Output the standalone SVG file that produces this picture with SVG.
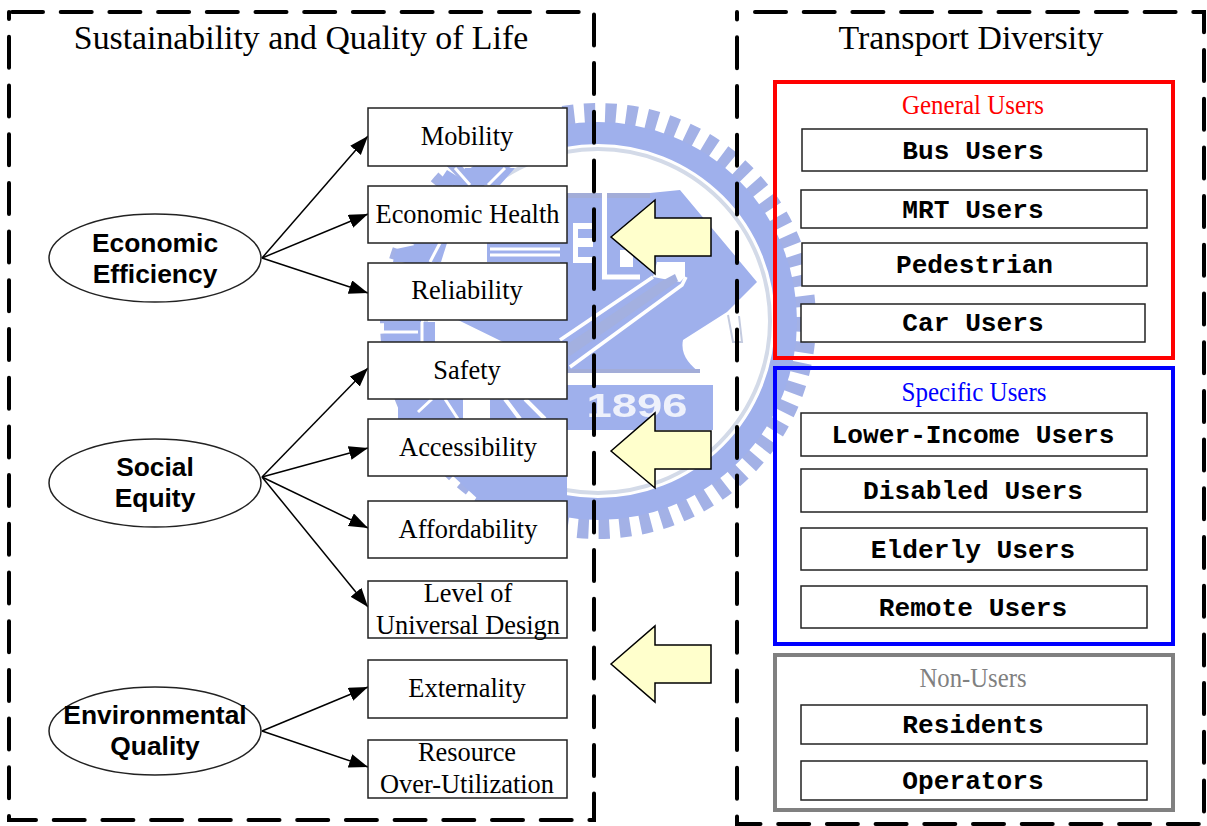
<svg xmlns="http://www.w3.org/2000/svg" width="1207" height="826" viewBox="0 0 1207 826">
<style>
text{text-anchor:middle;fill:#000}
.t{font:33.8px "Liberation Serif",serif}
.n{font:26.4px "Liberation Serif",serif}
.e{font:bold 26.4px "Liberation Sans",sans-serif}
.m{font:bold 26.2px "Liberation Mono",monospace}
.h{font:27px "Liberation Serif",serif}
.b{fill:#fff;stroke:#222;stroke-width:1.5}
.f{fill:none;stroke:#000;stroke-width:4;stroke-linecap:round;stroke-dasharray:31 17.7}
.g{fill:none;stroke-width:4}
.a{fill:#ffc;stroke:#000;stroke-width:1.5}
.w{fill:#9fb0ec}
.s{fill:none;stroke:#fff}
.c line{stroke:#000;stroke-width:1.5;marker-end:url(#ah)}
</style>
<defs>
<marker id="ah" markerUnits="userSpaceOnUse" markerWidth="20" markerHeight="16" refX="19" refY="7" orient="auto"><path d="M0 0L19 7L0 14Z" fill="#000"/></marker>
<filter id="soft" filterUnits="userSpaceOnUse" x="360" y="90" width="480" height="470"><feGaussianBlur stdDeviation="0.7"/></filter>
</defs>
<rect width="1207" height="826" fill="#fff"/>
<g id="watermark" filter="url(#soft)">
<circle cx="598" cy="321" r="208" fill="none" stroke="#a3b1e6" stroke-width="20" stroke-dasharray="11 10"/>
<circle cx="598" cy="321" r="188" fill="none" stroke="#9fb0ec" stroke-width="22"/>
<circle cx="598" cy="321" r="172" fill="none" stroke="#d3dae8" stroke-width="4"/>
<path class="w" d="M437 185L447 170L460 178L465 168H515L500 185Z"/>
<path class="s" stroke-width="3" d="M455 168L470 185M488 185L505 168"/>
<path class="w" d="M393 262L396 249L415 245L447 243L441 262Z"/>
<path class="s" stroke-width="3" d="M430 262L440 243"/>
<path class="w" d="M384 322H435V342H384Z"/>
<path class="s" stroke-width="3" d="M384 332H418M422 322V342"/>
<path class="w" d="M398 399H463V419H398Z"/>
<path class="s" stroke-width="3" d="M445 399L458 419M418 412L432 399"/>
<path class="w" d="M453 476H567V501H480Z"/>
<path class="w" d="M487 243H567V262H487ZM458 320H567V342H503Z"/>
<path class="w" d="M560 193H650L680 190L757 282L727 312L683 340C680 355 690 365 700 373H560Z"/>
<path fill="#a3add8" d="M560 193H650V198H560ZM560 369H700V373H560Z"/>
<path class="s" stroke-width="5" d="M604.500 193V277H640"/>
<path fill="#fff" d="M573 223H593V263H573ZM620 250H633V267H620ZM657 262H685V277L680 282L653 277Z"/>
<path fill="#9fb0ec" d="M578 229H593V238H578ZM578 247H593V257H578Z"/>
<path class="s" stroke-width="3.500" d="M686 277L682 285L570 367M653 277L560 340"/>
<path d="M660 282L675 274L678 281L570 356L560 349Z" fill="#a3b0e0"/>
<path class="s" stroke-width="3" d="M490 249H560M490 255H560"/>
<path d="M728 315L733 342H742L739 316" fill="none" stroke="#c4cbdf" stroke-width="2"/>
<path fill="#9fb0ec" d="M490 385H713V430H560V419H490Z"/>
<path class="s" stroke-width="4" d="M505 399L520 419M525 399L545 419"/>
<text x="637" y="417" textLength="101" lengthAdjust="spacingAndGlyphs" style="font:bold 33px 'Liberation Sans',sans-serif;fill:#eef1fb">1896</text>
</g>
<g id="frame-left"><path class="f" d="M12 12H594V820H9V12"/><text class="t" x="301" y="49">Sustainability and Quality of Life</text></g>
<g id="frame-right"><path class="f" d="M755 12H1204V824H737V12"/><text class="t" x="971" y="49" textLength="265" lengthAdjust="spacingAndGlyphs">Transport Diversity</text></g>
<g id="connectors" class="c">
<line x1="262" y1="258" x2="368" y2="136"/>
<line x1="262" y1="258" x2="368" y2="214"/>
<line x1="262" y1="258" x2="368" y2="293"/>
<line x1="262" y1="477" x2="368" y2="368"/>
<line x1="262" y1="477" x2="368" y2="448"/>
<line x1="262" y1="477" x2="368" y2="528"/>
<line x1="262" y1="477" x2="368" y2="607"/>
<line x1="262" y1="731" x2="368" y2="687"/>
<line x1="262" y1="731" x2="368" y2="767"/>
</g>
<g id="economic-efficiency"><ellipse class="b" cx="155" cy="258" rx="106" ry="44"/><text class="e" x="155" y="252">Economic</text><text class="e" x="155" y="283">Efficiency</text></g>
<g id="social-equity"><ellipse class="b" cx="155" cy="483" rx="106" ry="44"/><text class="e" x="155" y="476">Social</text><text class="e" x="155" y="507">Equity</text></g>
<g id="environmental-quality"><ellipse class="b" cx="155" cy="731" rx="106" ry="44"/><text class="e" x="155" y="724">Environmental</text><text class="e" x="155" y="755">Quality</text></g>
<g id="mobility"><rect class="b" x="368" y="108" width="199" height="58"/><text class="n" x="467" y="145">Mobility</text></g>
<g id="economic-health"><rect class="b" x="368" y="186" width="199" height="57"/><text class="n" x="467.500" y="223">Economic Health</text></g>
<g id="reliability"><rect class="b" x="368" y="263" width="199" height="57"/><text class="n" x="467" y="299">Reliability</text></g>
<g id="safety"><rect class="b" x="368" y="342" width="199" height="57"/><text class="n" x="467" y="379">Safety</text></g>
<g id="accessibility"><rect class="b" x="368" y="419" width="199" height="57"/><text class="n" x="468" y="456">Accessibility</text></g>
<g id="affordability"><rect class="b" x="368" y="501" width="199" height="57"/><text class="n" x="468" y="538">Affordability</text></g>
<g id="universal-design"><rect class="b" x="368" y="581" width="199" height="57"/><text class="n" x="468" y="602">Level of</text><text class="n" x="468" y="634">Universal Design</text></g>
<g id="externality"><rect class="b" x="368" y="660" width="199" height="58"/><text class="n" x="467" y="697">Externality</text></g>
<g id="resource"><rect class="b" x="368" y="740" width="199" height="58"/><text class="n" x="467" y="761">Resource</text><text class="n" x="467" y="793">Over-Utilization</text></g>
<g id="arrows">
<path id="arrow-1" class="a" d="M611 237L655 200V218H711V256H655V274Z"/>
<path id="arrow-2" class="a" d="M611 451L655 413V431H711V469H655V488Z"/>
<path id="arrow-3" class="a" d="M611 664L655 626V645H711V683H655V702Z"/>
</g>
<g id="general-users"><rect class="g" stroke="#f00" x="775" y="82" width="398" height="276"/><text class="h" x="973" y="114" textLength="142" lengthAdjust="spacingAndGlyphs" style="fill:#f00">General Users</text></g>
<g id="specific-users"><rect class="g" stroke="#00f" x="775" y="368" width="398" height="276"/><text class="h" x="974" y="401" textLength="145" lengthAdjust="spacingAndGlyphs" style="fill:#00f">Specific Users</text></g>
<g id="non-users"><rect class="g" stroke="#808080" x="775" y="655" width="398" height="155"/><text class="h" x="973" y="687" textLength="107" lengthAdjust="spacingAndGlyphs" style="fill:#808080">Non-Users</text></g>
<g id="bus"><rect class="b" x="802" y="129" width="345" height="42"/><text class="m" x="973" y="159">Bus Users</text></g>
<g id="mrt"><rect class="b" x="801" y="190" width="346" height="38"/><text class="m" x="973" y="218">MRT Users</text></g>
<g id="pedestrian"><rect class="b" x="802" y="243" width="345" height="43"/><text class="m" x="974.500" y="273">Pedestrian</text></g>
<g id="car"><rect class="b" x="801" y="304" width="344" height="38"/><text class="m" x="973" y="331">Car Users</text></g>
<g id="lower-income"><rect class="b" x="801" y="413" width="346" height="43"/><text class="m" x="973" y="443">Lower-Income Users</text></g>
<g id="disabled"><rect class="b" x="801" y="469" width="346" height="43"/><text class="m" x="973" y="499">Disabled Users</text></g>
<g id="elderly"><rect class="b" x="801" y="528" width="346" height="42"/><text class="m" x="973" y="558">Elderly Users</text></g>
<g id="remote"><rect class="b" x="801" y="586" width="346" height="42"/><text class="m" x="973" y="616">Remote Users</text></g>
<g id="residents"><rect class="b" x="801" y="705" width="346" height="39"/><text class="m" x="973" y="733">Residents</text></g>
<g id="operators"><rect class="b" x="801" y="761" width="346" height="39"/><text class="m" x="973" y="789">Operators</text></g>
</svg>
